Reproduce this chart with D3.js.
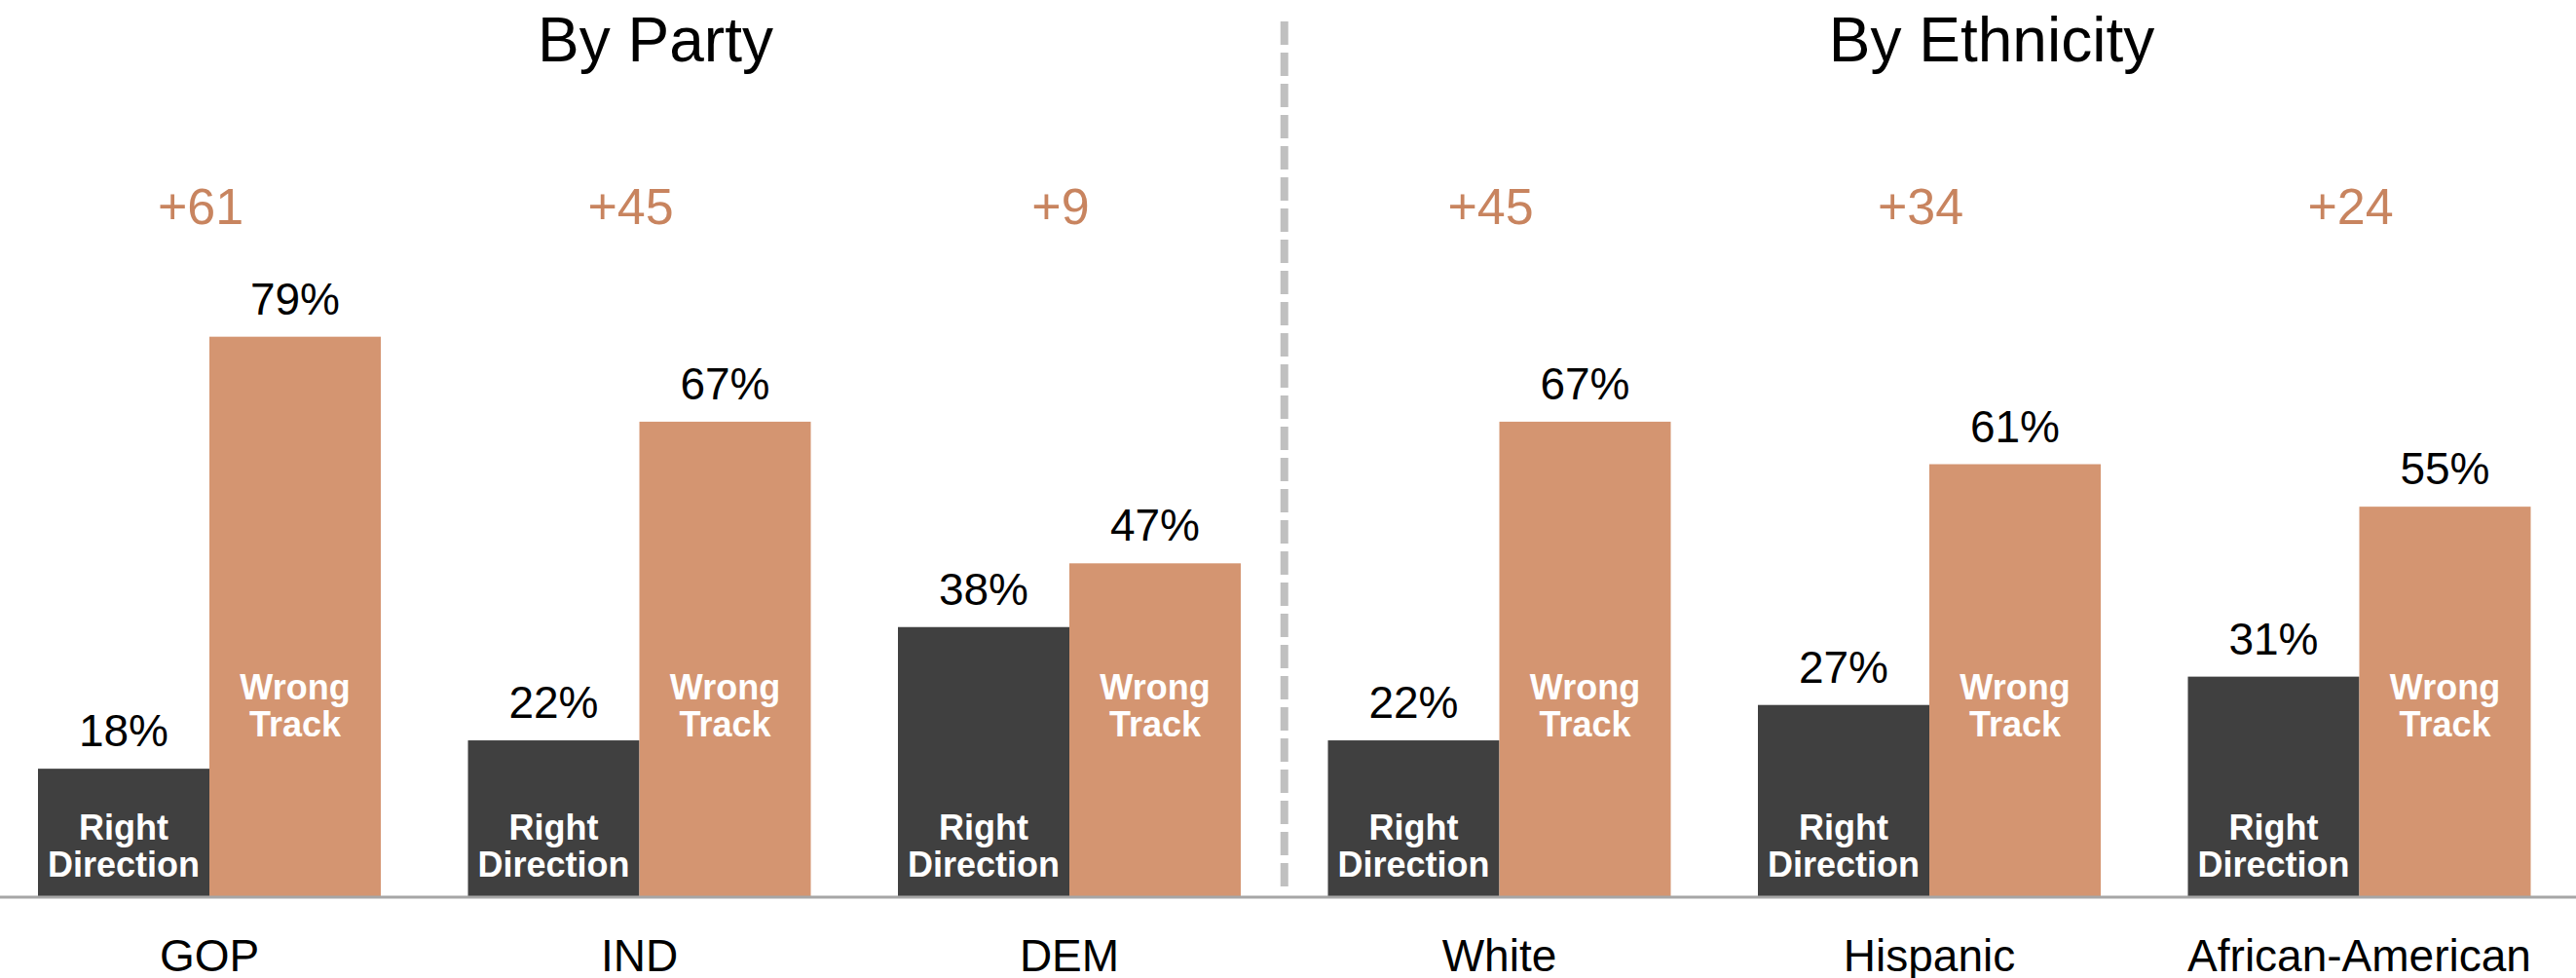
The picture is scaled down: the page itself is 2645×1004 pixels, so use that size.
<!DOCTYPE html>
<html>
<head>
<meta charset="utf-8">
<script src="https://cdn.jsdelivr.net/npm/d3@7"></script>
<style>
  html, body { margin: 0; padding: 0; background: #ffffff; }
  svg { display: block; font-family: "Liberation Sans", Arial, Helvetica, sans-serif; }
</style>
</head>
<body>
<svg id="chart" width="2645" height="1004"></svg>
<script>
// ---- data ----
const categories = ["GOP", "IND", "DEM", "White", "Hispanic", "African-American"];
const rightDirection = [18, 22, 38, 22, 27, 31];
const wrongTrack = [79, 67, 47, 67, 61, 55];
const seriesKeys = ["right", "wrong"];
const seriesLabels = [["Right", "Direction"], ["Wrong", "Track"]];
const panelTitles = ["By Party", "By Ethnicity"];

// ---- layout ----
const W = 2645, H = 1004;
const baseY = 920;
const colors = { right: "#404040", wrong: "#d49571" };
const diffColor = "#c8845f";

const svg = d3.select("#chart");

const x = d3.scaleBand().domain(categories).range([39, 2598.5]).paddingInner(0.2027).paddingOuter(0);
const xs = d3.scaleBand().domain(seriesKeys).range([0, x.bandwidth()]).padding(0);
const y = d3.scaleLinear().domain([0, 100]).range([baseY, baseY - 727]);

const rows = categories.map((c, i) => ({
  cat: c,
  right: rightDirection[i],
  wrong: wrongTrack[i],
  diff: wrongTrack[i] - rightDirection[i]
}));

// titles
const titleX = [673, 2045];
svg.selectAll("text.title").data(panelTitles).join("text")
  .attr("class", "title")
  .attr("x", (d, i) => titleX[i])
  .attr("y", 63)
  .attr("text-anchor", "middle")
  .attr("font-size", 64)
  .attr("fill", "#000")
  .text(d => d);

// dashed divider
const divX = (x("DEM") + x.bandwidth() + x("White")) / 2;
svg.append("line")
  .attr("x1", divX).attr("x2", divX)
  .attr("y1", 22).attr("y2", 910)
  .attr("stroke", "#c0c0c0")
  .attr("stroke-width", 8)
  .attr("stroke-dasharray", "24,8");

// groups
const g = svg.selectAll("g.grp").data(rows).join("g")
  .attr("class", "grp")
  .attr("transform", d => `translate(${x(d.cat)},0)`);

g.selectAll("rect").data(d => seriesKeys.map(k => ({ key: k, value: d[k] }))).join("rect")
  .attr("x", d => xs(d.key))
  .attr("y", d => y(d.value))
  .attr("width", xs.bandwidth())
  .attr("height", d => y(0) - y(d.value))
  .attr("fill", d => colors[d.key]);

// value labels
g.selectAll("text.val").data(d => seriesKeys.map(k => ({ key: k, value: d[k] }))).join("text")
  .attr("class", "val")
  .attr("x", d => xs(d.key) + xs.bandwidth() / 2)
  .attr("y", d => y(d.value) - 23)
  .attr("text-anchor", "middle")
  .attr("font-size", 46)
  .attr("fill", "#000")
  .text(d => d.value + "%");

// in-bar series labels
const innerBaselines = { right: [862, 900], wrong: [718, 756] };
seriesKeys.forEach((k, si) => {
  seriesLabels[si].forEach((line, li) => {
    g.append("text")
      .attr("x", xs(k) + xs.bandwidth() / 2)
      .attr("y", innerBaselines[k][li])
      .attr("text-anchor", "middle")
      .attr("font-size", 36)
      .attr("font-weight", "bold")
      .attr("fill", "#ffffff")
      .text(line);
  });
});

// difference labels
g.append("text")
  .attr("x", x.bandwidth() / 2 - 9)
  .attr("y", 230)
  .attr("text-anchor", "middle")
  .attr("font-size", 52)
  .attr("fill", diffColor)
  .text(d => "+" + d.diff);

// baseline axis
const axis = svg.append("g").attr("transform", `translate(0,${baseY})`)
  .call(d3.axisBottom(x).tickSize(0).tickPadding(0));
axis.select(".domain").remove();
axis.selectAll(".tick text")
  .attr("y", 77)
  .attr("dy", 0)
  .attr("font-size", 46)
  .attr("font-family", "'Liberation Sans', Arial, sans-serif")
  .attr("fill", "#000");
svg.append("line")
  .attr("x1", 0).attr("x2", W)
  .attr("y1", baseY + 1).attr("y2", baseY + 1)
  .attr("stroke", "#a6a6a6")
  .attr("stroke-width", 3);
</script>
</body>
</html>
